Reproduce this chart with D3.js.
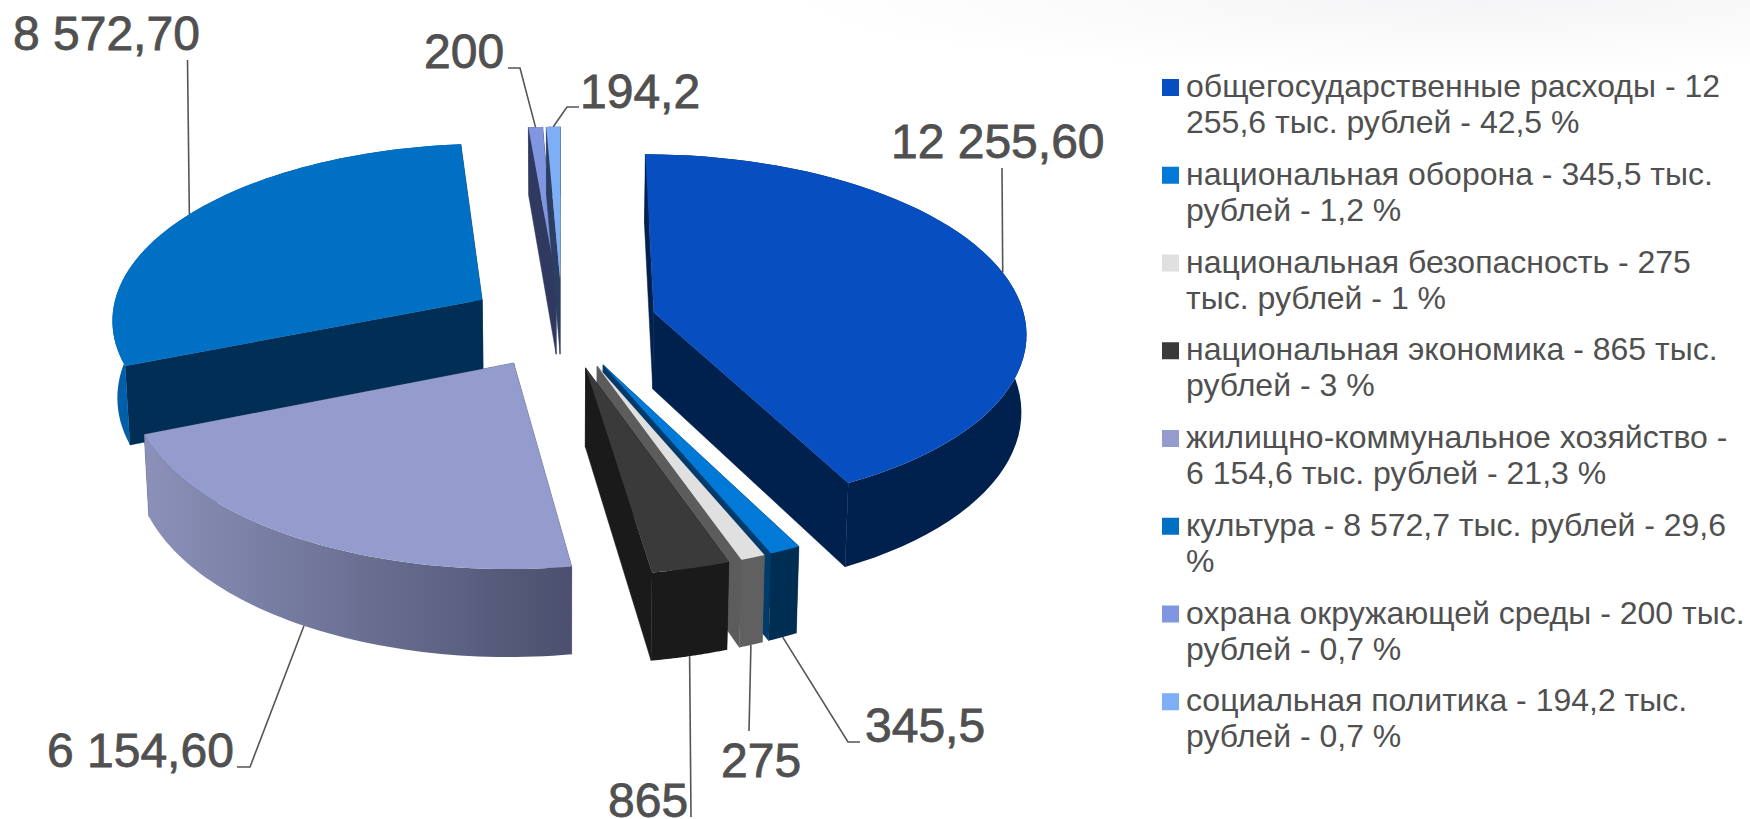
<!DOCTYPE html>
<meta charset="utf-8">
<style>
html, body { margin: 0; background: #fff; }
svg { display: block; }
text { font-family: "Liberation Sans", Arial, sans-serif; fill: #505050; }
.value { font-size: 48px; stroke: #505050; stroke-width: 0.8px; }
.legend-text { font-size: 32px; }
.leader { fill: none; stroke: #555; stroke-width: 1.6px; }
</style>
<svg width="1750" height="819"></svg>
<script src="https://d3js.org/d3.v7.min.js"></script>
<script>

var categories = ["общегосударственные расходы", "национальная оборона", "национальная безопасность",
  "национальная экономика", "жилищно-коммунальное хозяйство", "культура",
  "охрана окружающей среды", "социальная политика"];
var values = [12255.6, 345.5, 275, 865, 6154.6, 8572.7, 200, 194.2];
var valueLabels = ["12 255,60", "345,5", "275", "865", "6 154,60", "8 572,70", "200", "194,2"];
var legendLines = [
  ["общегосударственные расходы - 12", "255,6 тыс. рублей - 42,5 %"],
  ["национальная оборона - 345,5 тыс.", "рублей - 1,2 %"],
  ["национальная безопасность - 275", "тыс. рублей - 1 %"],
  ["национальная экономика - 865 тыс.", "рублей - 3 %"],
  ["жилищно-коммунальное хозяйство -", "6 154,6 тыс. рублей - 21,3 %"],
  ["культура - 8 572,7 тыс. рублей - 29,6", "%"],
  ["охрана окружающей среды - 200 тыс.", "рублей - 0,7 %"],
  ["социальная политика - 194,2 тыс.", "рублей - 0,7 %"]
];

// colours, same order as categories
var topColors = ["#074fc0", "#007ad6", "#e0e0e0", "#3a3a3a", "#939ccc", "#0070c4", "#8096e0", "#7eaef5"];
var sideColors = ["#00204e", "#003b6b", "#5c5c5c", "#1a1a1a", "#4d5170", "#002e55", "#30395f", "#2c3f62"];
var outerColors = ["#00204e", "#002e52", "#606060", "#1a1a1a", "url(#housing-wall)", "#005fa8", "#30395f", "#2c3f62"];

// back to front
var drawOrder = [5, 6, 7, 0, 4, 1, 2, 3];

// label text position (left, baseline) and the leader line's fixed points
var labelPos = [[891, 158], [865, 742], [721, 777], [608, 817], [47, 767], [13, 50], [424, 68], [580, 108]];
var leaderPts = [
  [[1002, 168]],
  [[860, 742], [848, 742]],
  [[749, 731]],
  [[691, 817]],
  [[237, 767], [250, 767]],
  [[187.5, 60]],
  [[508, 68], [520, 68]],
  [[579, 107], [567, 107]]
];
// leaders land on the top rim (0) or the wall's lower rim (1) at the slice's middle
var leaderRim = [0, 1, 1, 1, 1, 0, 0, 0];

var svg = d3.select("svg");

// pie geometry
var cx = 562, cy = 323, radius = 372, explode = 95, depth = 77, tilt = 0.474, persp = 0.102, narrow = 0.011;

// angle clockwise from 12 o'clock, dist from slice apex, z = 0 top or 1 bottom of wall
function project(slice, angle, dist, z) {
  var mid = (slice.startAngle + slice.endAngle) / 2;
  var wx = explode * Math.sin(mid) + dist * Math.sin(angle);
  var wy = -explode * Math.cos(mid) - dist * Math.cos(angle);
  var s = 1 / (1 - persp * wy / radius);
  return [cx + wx * s * (1 - narrow * z), cy + (tilt * wy + z * depth) * s];
}

var slices = d3.pie().sort(null).startAngle(0).endAngle(2 * Math.PI)(values);
var line = d3.line();

function rimPoints(slice, z) {
  var n = 60;
  return d3.range(n + 1).map(function(i) {
    var a = slice.startAngle + (slice.endAngle - slice.startAngle) * i / n;
    return project(slice, a, radius, z);
  });
}

var defs = svg.append("defs");

// faint haze along the top right
var haze = defs.append("radialGradient").attr("id", "haze");
haze.append("stop").attr("offset", 0).attr("stop-color", "#f5f5f7");
haze.append("stop").attr("offset", 1).attr("stop-color", "#ffffff");
svg.append("ellipse")
    .attr("cx", 1480).attr("cy", 0).attr("rx", 700).attr("ry", 75)
    .attr("fill", "url(#haze)");

var housingRim = rimPoints(slices[4], 1);
var grad = defs.append("linearGradient").attr("id", "housing-wall")
    .attr("gradientUnits", "userSpaceOnUse")
    .attr("x1", d3.min(housingRim, function(p) { return p[0]; })).attr("y1", 0)
    .attr("x2", d3.max(housingRim, function(p) { return p[0]; })).attr("y2", 0);
grad.append("stop").attr("offset", 0).attr("stop-color", "#8a90b8");
grad.append("stop").attr("offset", 1).attr("stop-color", "#4c506e");

var pieG = svg.append("g");

drawOrder.forEach(function(i) {
  var d = slices[i];
  var g = pieG.append("g").attr("class", "slice");

  // two radial walls
  [d.startAngle, d.endAngle].forEach(function(a) {
    g.append("path")
      .attr("d", line([
        project(d, a, 0, 0), project(d, a, radius, 0),
        project(d, a, radius, 1), project(d, a, 0, 1)
      ]) + "Z")
      .attr("fill", sideColors[i])
      .attr("stroke", sideColors[i]).attr("stroke-width", 0.5);
  });

  // outer wall
  g.append("path")
    .attr("d", line(rimPoints(d, 0).concat(rimPoints(d, 1).reverse())) + "Z")
    .attr("fill", outerColors[i]);

  // top face
  g.append("path")
    .attr("d", line([project(d, 0, 0, 0)].concat(rimPoints(d, 0))) + "Z")
    .attr("fill", topColors[i]);
});

// leader lines and value labels
slices.forEach(function(d, i) {
  var a = (d.startAngle + d.endAngle) / 2;
  var end = project(d, a, radius, leaderRim[i]);
  svg.append("path")
    .attr("class", "leader")
    .attr("d", line(leaderPts[i].concat([end])));
  svg.append("text")
    .attr("class", "value")
    .attr("x", labelPos[i][0])
    .attr("y", labelPos[i][1])
    .text(valueLabels[i]);
});

// legend
var legendX = 1162, legendY = 97, legendStep = 87.75, lineStep = 36;
var legend = svg.append("g").selectAll("g")
  .data(categories)
  .enter().append("g")
    .attr("transform", function(d, i) { return "translate(" + legendX + "," + (legendY + i * legendStep) + ")"; });

legend.append("rect")
    .attr("x", 0).attr("y", -18)
    .attr("width", 17).attr("height", 17)
    .attr("fill", function(d, i) { return topColors[i]; });

legend.each(function(d, i) {
  d3.select(this).selectAll("text")
    .data(legendLines[i])
    .enter().append("text")
      .attr("class", "legend-text")
      .attr("x", 24)
      .attr("y", function(t, j) { return j * lineStep; })
      .text(function(t) { return t; });
});

</script>
